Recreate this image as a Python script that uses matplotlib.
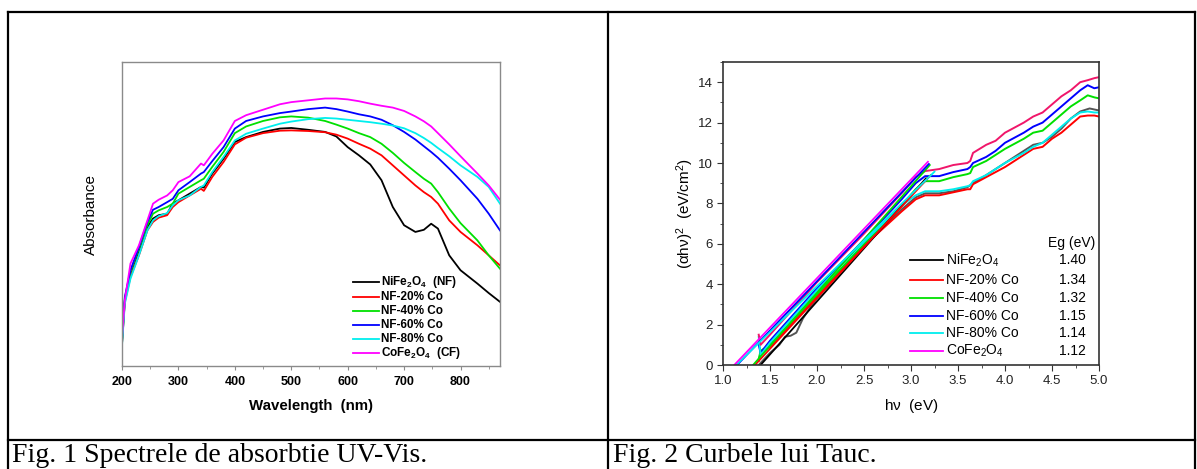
import matplotlib
matplotlib.use('Agg')
import matplotlib.pyplot as plt
from matplotlib.lines import Line2D
from matplotlib.ticker import MultipleLocator, NullLocator

plt.rcParams['font.family'] = ['Liberation Sans', 'DejaVu Sans']
plt.rcParams['mathtext.default'] = 'regular'

# --- spectre UV-Vis (absorbanta in unitati arbitrare) ---
wavelength = [200, 205, 215, 230, 245, 255, 265, 280, 290, 300, 320, 340, 345,
              360, 380, 400, 420, 450, 480, 500, 530, 560, 580, 600, 620, 640,
              660, 680, 700, 720, 735, 748, 760, 780, 800, 830, 850, 870]

abs_nf = [.073, .216, .304, .380, .457, .485, .496, .501, .534, .545, .567, .589, .587,
          .633, .682, .737, .753, .770, .781, .783, .777, .770, .755, .720, .693, .663,
          .611, .523, .463, .441, .448, .468, .452, .364, .315, .271, .240, .211]
abs_20 = [.073, .211, .293, .364, .446, .474, .488, .496, .523, .539, .561, .583, .576,
          .622, .671, .729, .751, .766, .774, .775, .773, .769, .761, .748, .731, .715,
          .693, .660, .627, .594, .572, .556, .534, .479, .441, .397, .364, .331]
abs_40 = [.084, .221, .309, .386, .463, .501, .512, .523, .534, .567, .589, .611, .616,
          .655, .704, .766, .788, .806, .818, .821, .817, .806, .794, .781, .766, .753,
          .731, .701, .668, .638, .616, .600, .572, .518, .470, .413, .364, .320]
abs_60 = [.084, .227, .315, .391, .474, .514, .523, .539, .550, .578, .605, .633, .638,
          .674, .720, .781, .806, .821, .832, .837, .845, .850, .845, .837, .828, .821,
          .810, .792, .770, .745, .723, .704, .685, .649, .611, .550, .501, .446]
abs_80 = [.068, .205, .287, .364, .446, .479, .493, .503, .529, .545, .561, .589, .594,
          .638, .688, .742, .764, .781, .797, .804, .812, .816, .814, .810, .806, .802,
          .797, .791, .782, .766, .750, .734, .717, .690, .660, .622, .589, .534]
abs_cf = [.095, .216, .337, .397, .479, .534, .547, .561, .578, .605, .624, .666, .660,
          .698, .742, .806, .825, .843, .861, .868, .874, .880, .880, .877, .871, .863,
          .856, .850, .839, .821, .805, .788, .766, .729, .690, .633, .594, .547]

uv_labels = [r'NiFe$_2$O$_4$  (NF)', 'NF-20% Co', 'NF-40% Co', 'NF-60% Co',
             'NF-80% Co', r'CoFe$_2$O$_4$  (CF)']
colors = ['black', '#ff0000', '#00e000', '#0000ff', '#00eeee', '#ff00ff']

# --- curbe Tauc ---
tauc_labels = [r'NiFe$_2$O$_4$', 'NF-20% Co', 'NF-40% Co', 'NF-60% Co',
               'NF-80% Co', r'CoFe$_2$O$_4$']
eg = [1.40, 1.34, 1.32, 1.15, 1.14, 1.12]
# capatul superior al dreptelor de extrapolare (hv, valoare)
fit_end_x = [3.16, 3.21, 3.20, 3.19, 3.25, 3.18]
fit_end_y = [9.24, 9.40, 9.90, 9.95, 9.57, 10.06]

hv_nf = [1.38, 1.50, 1.60, 1.66, 1.72, 1.78, 1.85, 1.95, 2.0, 2.5, 2.9, 3.05, 3.15, 3.3,
         3.45, 3.6, 3.63, 3.66, 3.8, 3.9, 4.0, 4.2, 4.3, 4.4, 4.5, 4.6, 4.7, 4.8, 4.9, 5.0]
tauc_nf = [0.0, 0.6, 1.0, 1.4, 1.45, 1.6, 2.3, 3.0, 3.3, 5.9, 7.7, 8.3, 8.5, 8.5,
           8.6, 8.8, 8.9, 9.0, 9.4, 9.7, 10.0, 10.6, 10.9, 11.0, 11.3, 11.7, 12.2, 12.55, 12.7, 12.6]

hv = [1.38, 1.40, 1.5, 2.0, 2.5, 2.9, 3.05, 3.15, 3.3, 3.45, 3.6, 3.63, 3.66, 3.8, 3.9,
      4.0, 4.2, 4.3, 4.4, 4.5, 4.6, 4.7, 4.8, 4.88, 4.95, 5.0]
tauc_20 = [0.2, 0.6, 0.9, 3.4, 5.9, 7.6, 8.2, 8.4, 8.4, 8.55, 8.7, 8.7, 8.95, 9.3, 9.55,
           9.8, 10.4, 10.7, 10.8, 11.2, 11.5, 11.9, 12.3, 12.35, 12.35, 12.3]
tauc_40 = [0.3, 0.7, 1.0, 3.5, 6.0, 7.9, 8.7, 9.1, 9.1, 9.3, 9.45, 9.5, 9.8, 10.1, 10.4,
           10.7, 11.2, 11.5, 11.6, 12.0, 12.4, 12.8, 13.1, 13.35, 13.25, 13.2]
tauc_60 = [1.0, 0.6, 1.2, 3.8, 6.2, 8.2, 9.0, 9.35, 9.35, 9.55, 9.7, 9.8, 10.0, 10.3, 10.6,
           11.0, 11.5, 11.8, 12.0, 12.4, 12.8, 13.2, 13.6, 13.85, 13.7, 13.75]
tauc_80 = [1.4, 0.5, 1.1, 3.7, 6.1, 7.9, 8.4, 8.6, 8.6, 8.7, 8.85, 8.9, 9.1, 9.4, 9.7,
           10.0, 10.5, 10.8, 11.0, 11.4, 11.8, 12.2, 12.5, 12.55, 12.5, 12.5]
tauc_cf = [1.5, 1.0, 1.5, 4.1, 6.5, 8.5, 9.3, 9.6, 9.7, 9.9, 10.0, 10.1, 10.5, 10.9, 11.1,
           11.5, 12.0, 12.3, 12.5, 12.9, 13.3, 13.6, 14.0, 14.1, 14.2, 14.25]
tauc_colors = ['#555555', '#ff0000', '#00e000', '#0000ff', '#00eeee', '#f0166a']
fit_colors = ['black', '#ff0000', '#00e000', '#0000ff', '#00eeee', '#ff00ff']

W, H = 1197, 469
fig = plt.figure(figsize=(W / 100, H / 100), dpi=100)


def fx(px):
    return px / W


def fy(py):
    return 1 - py / H


# chenarul tabelului
lines = [((8, 1195), (12, 12)), ((8, 1195), (440, 440)), ((8, 8), (12, 469)),
         ((608, 608), (12, 469)), ((1195, 1195), (12, 469))]
for xs, ys in lines:
    fig.add_artist(Line2D([fx(x) for x in xs], [fy(y) for y in ys],
                          transform=fig.transFigure, color='black', lw=1.6))

fig.text(fx(12), fy(462), 'Fig. 1 Spectrele de absorbtie UV-Vis.',
         family='Liberation Serif', fontsize=20, va='baseline')
fig.text(fx(613), fy(462), 'Fig. 2 Curbele lui Tauc.',
         family='Liberation Serif', fontsize=20, va='baseline')

# ---------- Fig. 1 ----------
ax1 = fig.add_axes([fx(122), fy(366), fx(500) - fx(122), fy(62) - fy(366)])
series = [abs_nf, abs_20, abs_40, abs_60, abs_80, abs_cf]
for ys, c in zip(series, colors):
    ax1.plot(wavelength, ys, color=c, lw=1.3)
ax1.set_xlim(200, 870)
ax1.set_ylim(0, 1)
ax1.xaxis.set_major_locator(MultipleLocator(100))
ax1.xaxis.set_minor_locator(MultipleLocator(50))
ax1.yaxis.set_major_locator(NullLocator())
for s in ax1.spines.values():
    s.set_color('#8a8a8a')
    s.set_linewidth(1.0)
ax1.tick_params(axis='x', which='major', direction='out', length=3, color='#8a8a8a',
                labelsize=9, pad=4)
ax1.tick_params(axis='x', which='minor', direction='out', length=2, color='#8a8a8a')
for lab in ax1.get_xticklabels():
    lab.set_fontweight('bold')
ax1.set_xlabel('Wavelength  (nm)', fontsize=10.8, fontweight='bold', labelpad=8)
ax1.set_ylabel('Absorbance', fontsize=11, labelpad=17)

row_y = [282, 297, 311, 325, 339, 353]
for i, (lab, c) in enumerate(zip(uv_labels, colors)):
    y = (366 - row_y[i]) / 304
    ax1.plot([0.611, 0.680], [y, y], color=c, lw=1.3, transform=ax1.transAxes)
    ax1.text(0.684, y, lab, transform=ax1.transAxes, fontsize=8.5,
             fontweight='bold', va='center')

# ---------- Fig. 2 ----------
ax2 = fig.add_axes([fx(723), fy(365), fx(1099) - fx(723), fy(62) - fy(365)])
ax2.plot(hv_nf, tauc_nf, color=tauc_colors[0], lw=1.4)
for ys, c in zip([tauc_20, tauc_40, tauc_60, tauc_80, tauc_cf], tauc_colors[1:]):
    ax2.plot(hv, ys, color=c, lw=1.4)
for e, x1, y1, c in zip(eg, fit_end_x, fit_end_y, fit_colors):
    ax2.plot([e, x1], [0, y1], color=c, lw=1.3)
ax2.set_xlim(1.0, 5.0)
ax2.set_ylim(0, 15)
ax2.xaxis.set_major_locator(MultipleLocator(0.5))
ax2.xaxis.set_minor_locator(MultipleLocator(0.25))
ax2.yaxis.set_minor_locator(MultipleLocator(1))
ax2.set_yticks(range(0, 15, 2))
for s in ax2.spines.values():
    s.set_color('#333333')
    s.set_linewidth(1.2)
ax2.tick_params(which='major', direction='out', length=4, color='#333333',
                labelsize=9.5, labelcolor='#222222')
ax2.tick_params(which='minor', direction='out', length=2.5, color='#333333')
ax2.set_xlabel(r'h$\nu$  (eV)', fontsize=11, labelpad=7)
ax2.set_ylabel(r'($\alpha$h$\nu$)$^2$  (eV/cm$^2$)', fontsize=11, labelpad=1)

ax2.text(0.926, (365 - 243) / 303, 'Eg (eV)', transform=ax2.transAxes,
         fontsize=10, ha='center', va='center')
tauc_rows = [260, 280, 298, 316, 333, 351]
for i, (lab, c) in enumerate(zip(tauc_labels, fit_colors)):
    y = (365 - tauc_rows[i]) / 303
    ax2.plot([0.497, 0.585], [y, y], color=c, lw=1.3, transform=ax2.transAxes)
    ax2.text(0.592, y, lab, transform=ax2.transAxes, fontsize=10, va='center')
    ax2.text(0.93, y, f'{eg[i]:.2f}', transform=ax2.transAxes, fontsize=10,
             ha='center', va='center')

fig.savefig('out.png', dpi=100)
